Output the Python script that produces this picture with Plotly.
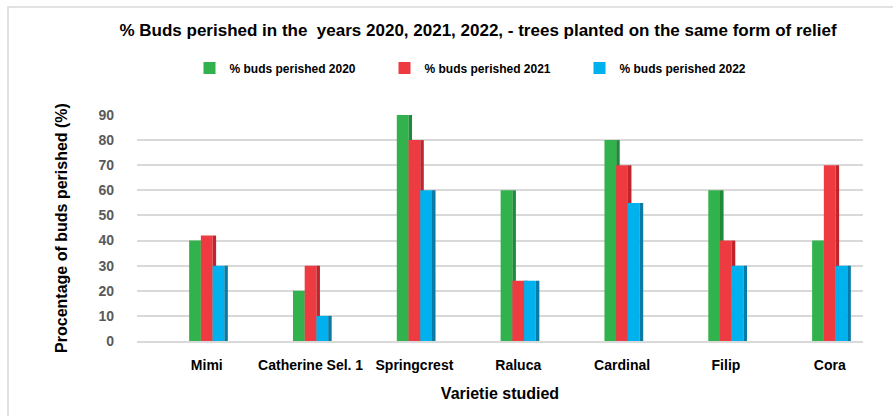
import plotly.graph_objects as go

varieties = ["Mimi", "Catherine Sel. 1", "Springcrest", "Raluca", "Cardinal", "Filip", "Cora"]
perished_2020 = [40, 20, 90, 60, 80, 60, 40]
perished_2021 = [42, 30, 80, 24, 70, 40, 70]
perished_2022 = [30, 10, 60, 24, 55, 30, 30]
series_names = ["% buds perished 2020", "% buds perished 2021", "% buds perished 2022"]
y_ticks = [0, 10, 20, 30, 40, 50, 60, 70, 80, 90]

front_colors = ["#31b24d", "#ee3b41", "#00b1ee"]
side_colors = ["#1f8a38", "#c0252b", "#0a7aa6"]

FONT = "Liberation Sans, Arial, sans-serif"

x_idx = list(range(len(varieties)))
bar_w = 0.113
side_w = 0.034
offsets = [-0.17, -0.057, 0.056]

fig = go.Figure()
for vals, name, fc, sc, off in zip([perished_2020, perished_2021, perished_2022],
                                   series_names, front_colors, side_colors, offsets):
    fig.add_trace(go.Bar(x=x_idx, y=vals, name="<b>%s</b>" % name, marker=dict(color=fc, line=dict(width=0)),
                         width=bar_w, offset=off, showlegend=True))
    fig.add_trace(go.Bar(x=x_idx, y=vals, name=name, marker=dict(color=sc, line=dict(width=0)),
                         width=side_w, offset=off + bar_w, showlegend=False, hoverinfo="skip"))

fig.update_layout(
    width=893, height=416,
    margin=dict(l=137, r=30, t=115, b=75),
    paper_bgcolor="white", plot_bgcolor="white",
    barmode="overlay",
    font=dict(family=FONT, color="#000000"),
    title=dict(text="<b>% Buds perished in the  years 2020, 2021, 2022, - trees planted on the same form of relief</b>",
               x=(478 - 0) / 893, xanchor="center", y=1 - 30 / 416, yanchor="middle",
               font=dict(size=17, family=FONT, color="#000000")),
    legend=dict(orientation="h", x=(482 - 137) / 726, xanchor="center", y=1 + (115 - 68) / 226, yanchor="middle",
                font=dict(size=12, family=FONT, color="#000000"), entrywidth=150, entrywidthmode="pixels",
                itemwidth=30, bgcolor="rgba(0,0,0,0)"),
    xaxis=dict(tickmode="array", tickvals=x_idx, ticktext=["<b>%s</b>" % v for v in varieties],
               range=[-0.672, 6.32], showgrid=False, showline=True, linecolor="#d9d9d9", linewidth=1.5,
               ticks="", ticklabelstandoff=10, tickfont=dict(size=14, family=FONT, color="#000000"),
               title=dict(text="<b>Varietie studied</b>", font=dict(size=16, family=FONT, color="#000000"), standoff=16)),
    yaxis=dict(range=[0, 90], tickmode="array", tickvals=y_ticks, ticktext=["<b>%d</b>" % t for t in y_ticks],
               showgrid=True, gridcolor="#d9d9d9", gridwidth=1.5, zeroline=False, showline=False,
               ticks="", ticklabelstandoff=22, tickfont=dict(size=14, family=FONT, color="#595959"),
               title=dict(text="<b>Procentage of buds perished (%)</b>", font=dict(size=16, family=FONT, color="#000000"), standoff=26)),
    shapes=[dict(type="rect", xref="paper", yref="paper", x0=(8 - 137) / 726, x1=1.2, y0=-0.6, y1=1 + (115 - 7) / 226,
                 line=dict(color="#d9d9d9", width=1.5), fillcolor="rgba(0,0,0,0)", layer="below")],
)

fig.write_html("out.html")
